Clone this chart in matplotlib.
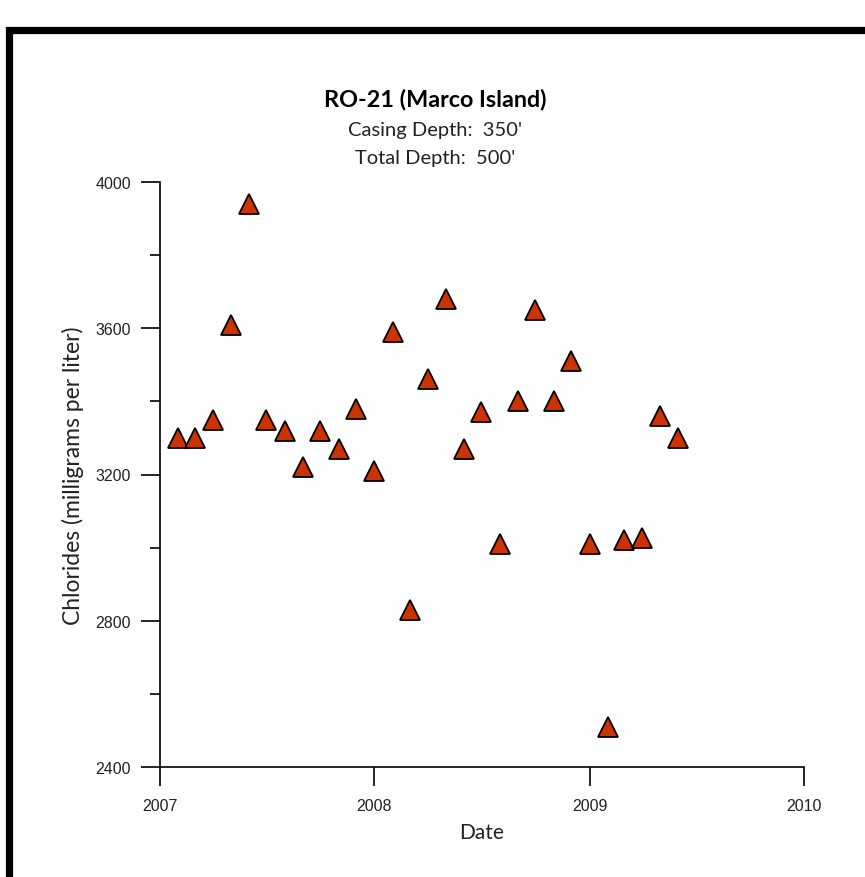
import datetime as dt
import matplotlib
matplotlib.use("Agg")
import matplotlib.pyplot as plt
import matplotlib.dates as mdates
from matplotlib.patches import Rectangle
from matplotlib.ticker import MultipleLocator

# monthly chloride samples, RO-21
dates = ["2007-02-01", "2007-03-01", "2007-04-01", "2007-05-01", "2007-06-01",
         "2007-07-01", "2007-08-01", "2007-09-01", "2007-10-01", "2007-11-01",
         "2007-12-01", "2008-01-01", "2008-02-01", "2008-03-01", "2008-04-01",
         "2008-05-01", "2008-06-01", "2008-07-01", "2008-08-01", "2008-09-01",
         "2008-10-01", "2008-11-01", "2008-12-01", "2009-01-01", "2009-02-01",
         "2009-03-01", "2009-04-01", "2009-05-01", "2009-06-01"]
chlorides = [3300, 3300, 3350, 3610, 3940, 3350, 3320, 3220, 3320, 3270,
             3380, 3210, 3590, 2830, 3460, 3680, 3270, 3370, 3010, 3400,
             3650, 3400, 3510, 3010, 2510, 3020, 3025, 3360, 3300]
x_years = [2007, 2008, 2009, 2010]
y_labels = [2400, 2800, 3200, 3600, 4000]

title = "RO-21 (Marco Island)"
sub1 = "Casing Depth:  350'"
sub2 = "Total Depth:  500'"

W, H = 865, 878
fig = plt.figure(figsize=(W / 100, H / 100), dpi=100)
ax = fig.add_axes([160 / W, 1 - 768 / H, 644 / W, 585 / H])

d = [dt.datetime.strptime(s, "%Y-%m-%d") for s in dates]
ax.plot(d, chlorides, ls="none", marker="^", ms=15, mfc="#CC3300",
        mec="black", mew=1.3, clip_on=False)

ax.set_xlim(dt.datetime(2007, 1, 1), dt.datetime(2010, 1, 1))
ax.set_ylim(2400, 4000)
ax.set_xticks([dt.datetime(y, 1, 1) for y in x_years])
ax.xaxis.set_major_formatter(mdates.DateFormatter("%Y"))
ax.set_yticks(y_labels)
ax.yaxis.set_minor_locator(MultipleLocator(200))

for s in ["top", "right"]:
    ax.spines[s].set_visible(False)
for s in ["left", "bottom"]:
    ax.spines[s].set_linewidth(1.2)

ax.tick_params(axis="x", direction="out", length=14, width=1.2, pad=8,
               labelsize=11.5, labelcolor="#222222")
ax.tick_params(axis="y", which="major", direction="out", length=14, width=1.2,
               pad=7, labelsize=11.5, labelcolor="#222222")
ax.tick_params(axis="y", which="minor", direction="out", length=7, width=1.2)
for lab in ax.get_xticklabels():
    lab.set_family(["Liberation Sans Narrow", "Liberation Sans", "DejaVu Sans"])
for lab in ax.get_yticklabels():
    lab.set_family(["Liberation Sans", "DejaVu Sans"])

ax.set_xlabel("Date", family=["Lato", "DejaVu Sans"], fontsize=15,
              color="#222222", labelpad=7)
ax.set_ylabel("Chlorides (milligrams per liter)", family=["Lato", "DejaVu Sans"],
              fontsize=16.5, color="#222222", labelpad=8)

cx = 435 / W
fig.text(cx, 1 - 106 / H, title, ha="center", va="baseline", fontsize=16.8,
         weight="bold", family=["Lato", "DejaVu Sans"])
fig.text(cx, 1 - 136 / H, sub1, ha="center", va="baseline", fontsize=14.5,
         family=["Lato", "DejaVu Sans"], color="#222222")
fig.text(cx, 1 - 164 / H, sub2, ha="center", va="baseline", fontsize=14.5,
         family=["Lato", "DejaVu Sans"], color="#222222")

# frame of the original page, cut off at right and bottom
fig.patches.append(Rectangle((8.5 / W, -0.1), 1.2, 1 - 30.5 / H + 0.1,
                             transform=fig.transFigure, fill=False,
                             ec="black", lw=5.2))

fig.savefig("out.png", dpi=100)
